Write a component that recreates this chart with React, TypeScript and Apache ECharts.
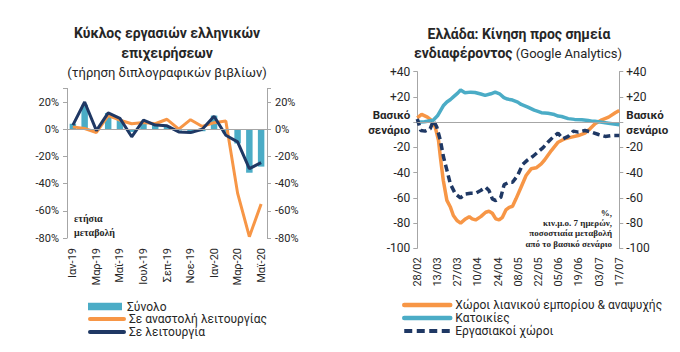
import React, { useEffect, useRef } from 'react';
import * as echarts from 'echarts';

// ---------- Left chart data ----------
const months = ['Ιαν-19', 'Φεβ-19', 'Μαρ-19', 'Απρ-19', 'Μαϊ-19', 'Ιουν-19', 'Ιουλ-19', 'Αυγ-19', 'Σεπ-19', 'Οκτ-19', 'Νοε-19', 'Δεκ-19', 'Ιαν-20', 'Φεβ-20', 'Μαρ-20', 'Απρ-20', 'Μαϊ-20'];
const totalTurnover = [4, 18, -1, 12, 7, -2, 5, 4, 2.5, -1, -3, -1.5, 10, -3, -10.5, -32, -27.5];
const suspendedOps = [1.7, 0.5, -2.4, 10, 6.6, 4, 5, 4, 7.3, 0, 7, 2, 4.8, 6, -47, -79, -55];
const operatingOps = [3, 20, -1, 12, 8, -5.6, 6.6, 3, 2.5, -2, -2.5, 0, 9.5, -4.4, -9.3, -29, -24.6];

// ---------- Right chart data (x = days since 28/02) ----------
const dateTicks = ['28/02', '13/03', '27/03', '10/04', '24/04', '08/05', '22/05', '05/06', '19/06', '03/07', '17/07'];

const retailDays = [0, 3, 7, 10, 12.4, 14.7, 16, 18, 20.5, 23, 25, 27.5, 30, 33.4, 36, 38, 40.4, 44, 47.4, 49.7, 52, 54.4, 56.7, 59, 61.4, 63.7, 66, 68.4, 71.9, 75.4, 78.9, 82.4, 85.9, 88.2, 92.9, 97.6, 102.2, 106.9, 111.6, 116.2, 119.7, 123.2, 127.9, 132.6, 137.2, 140];
const retailValues = [3.4, 6.1, 4, 1.3, -3.9, -14.5, -27.8, -46, -62, -67.5, -74, -78, -80, -76.7, -74.9, -76.7, -77.5, -74.9, -71.4, -70.6, -72.2, -76.7, -77.5, -75.4, -69.6, -67.5, -66.7, -60.8, -51.6, -42.3, -37, -36.2, -33.1, -30, -22.5, -15.9, -13.2, -11.9, -10.6, -8.7, -5.3, -1.3, 1.9, 4, 7.4, 9.3];

const residentialDays = [0, 5, 11, 14, 16, 18, 20.5, 23, 25, 28, 30, 33, 37, 40, 44, 47, 51, 54, 57, 60, 62.5, 66, 69.6, 72, 76.6, 81, 83.6, 86, 90.6, 95, 97.6, 100, 104.6, 109, 114, 118.5, 121, 123, 128, 132.5, 135, 140];
const residentialValues = [0, 0.3, 1.5, 5, 9, 13, 16, 18, 20, 23, 25.5, 23.3, 23.8, 23.5, 22.3, 21.2, 22.5, 23.8, 22.5, 19.5, 18.3, 17.5, 15.9, 14, 11.9, 9.5, 8.5, 7.5, 7, 6, 4.8, 4.5, 2.8, 2.2, 1.9, 1.3, 0.8, 0.8, 0, -0.8, -1.3, -2.1];

const workplaceDays = [0, 2.4, 5.4, 8.9, 11.2, 13.5, 16, 18.2, 20.6, 22.9, 26.4, 29.9, 33.4, 36.9, 40.4, 43.9, 47.4, 49.7, 52, 54.4, 57.9, 60.2, 63.7, 66, 69.5, 73, 76.5, 80, 83.5, 87, 90.5, 94, 97.5, 101, 104.6, 108.1, 111.6, 116.2, 120.9, 125.6, 130.2, 134.9, 140];
const workplaceValues = [2.6, -6.6, -7.1, -5.3, 1.3, -3.9, -14.5, -27.8, -38.4, -48.9, -56.9, -60, -56.9, -56.3, -56.3, -54.2, -51.6, -54.2, -60.8, -62.2, -59.5, -49.5, -47.6, -47.6, -42.3, -33.6, -29.9, -27.2, -23.8, -20.4, -15.9, -11.9, -8.7, -13.2, -11.3, -7.1, -7.9, -6.6, -7.9, -9.8, -11.3, -10.6, -10.6];

const pair = (xs: number[], ys: number[]) => xs.map((x, i) => [x, ys[i]]);

const ORANGE = '#F79646';
const TEAL = '#4BACC6';
const NAVY = '#1F3864';
const AXIS = '#A6A6A6';
const TXT = '#262626';
const FONT = 'Roboto, "Noto Sans", sans-serif';
const SERIF = '"Liberation Serif", "DejaVu Serif", serif';

export default function App() {
  const ref = useRef<HTMLDivElement>(null);
  useEffect(() => {
    if (!ref.current) return;
    const chart = echarts.init(ref.current, null, { renderer: 'svg' });
    const zeroLine = {
      silent: true,
      symbol: ['none', 'none'],
      label: { show: false },
      lineStyle: { color: AXIS, width: 1, type: 'solid' },
      data: [{ yAxis: 0 }],
    };
    const yAxisBase = {
      axisLine: { show: true, lineStyle: { color: AXIS } },
      axisTick: { show: true, length: 4, lineStyle: { color: AXIS } },
      splitLine: { show: false },
    };
    const leftYFmt = (v: number) => (v > 25 ? '' : v + '%');
    const rich = { b: { fontFamily: FONT, fontWeight: 'bold', fontSize: 11.5, lineHeight: 15, color: TXT } };
    const rightYFmt = (v: number) => (v === 0 ? '{b|Βασικό}\n{b|σενάριο}' : v > 0 ? '+' + v : '' + v);
    const legendText = { fontSize: 12, color: TXT, fontFamily: FONT };
    const option: any = {
      animation: false,
      backgroundColor: '#ffffff',
      textStyle: { fontFamily: FONT },
      grid: [
        { left: 67, top: 88.4, width: 200, height: 149.6 },
        { left: 417.3, top: 71.7, width: 202, height: 176.6 },
      ],
      xAxis: [
        {
          type: 'category', gridIndex: 0, data: months, boundaryGap: true,
          axisLine: { show: false }, axisTick: { show: false },
          axisLabel: { rotate: 90, interval: 1, margin: 10, fontSize: 11, color: TXT, fontFamily: FONT },
        },
        {
          type: 'value', gridIndex: 1, min: 0, max: 140, interval: 14,
          axisLine: { show: false }, axisTick: { show: false }, splitLine: { show: false },
          axisLabel: { rotate: 90, margin: 9, fontSize: 11, color: TXT, fontFamily: FONT, formatter: (v: number) => dateTicks[Math.round(v / 14)] },
        },
      ],
      yAxis: [
        { ...yAxisBase, type: 'value', gridIndex: 0, position: 'left', min: -80, max: 30, interval: 20, axisLabel: { formatter: leftYFmt, fontSize: 11, color: TXT, margin: 8 } },
        { ...yAxisBase, type: 'value', gridIndex: 0, position: 'right', min: -80, max: 30, interval: 20, axisLabel: { formatter: leftYFmt, fontSize: 11, color: TXT, margin: 8 } },
        { ...yAxisBase, type: 'value', gridIndex: 1, position: 'left', min: -100, max: 40, interval: 20, axisLabel: { formatter: rightYFmt, rich, fontSize: 12, color: TXT, margin: 7 } },
        { ...yAxisBase, type: 'value', gridIndex: 1, position: 'right', min: -100, max: 40, interval: 20, axisLabel: { formatter: rightYFmt, rich, fontSize: 12, color: TXT, margin: 7 } },
      ],
      legend: [
        {
          orient: 'vertical', left: 83, top: 295.5, itemWidth: 34, itemHeight: 7.5, itemGap: 0,
          textStyle: legendText,
          data: [{ name: 'Σύνολο', icon: 'rect' }],
        },
        {
          orient: 'vertical', left: 83, top: 308, itemWidth: 34, itemHeight: 1, itemGap: 1,
          textStyle: legendText, lineStyle: { width: 4, cap: 'round' },
          data: ['Σε αναστολή λειτουργίας', 'Σε λειτουργία'],
        },
        {
          orient: 'vertical', left: 397, top: 294, itemWidth: 46, itemHeight: 1, itemGap: 1,
          textStyle: legendText,
          data: [
            { name: 'Χώροι λιανικού εμπορίου & αναψυχής', lineStyle: { width: 4.5, cap: 'round' } },
            { name: 'Κατοικίες', lineStyle: { width: 4.5, cap: 'round' } },
            { name: 'Εργασιακοί χώροι', lineStyle: { width: 4, type: [8, 4.5] } },
          ],
        },
      ],
      series: [
        {
          name: 'Σύνολο', type: 'bar', xAxisIndex: 0, yAxisIndex: 0, data: totalTurnover,
          barWidth: '55%', itemStyle: { color: TEAL }, markLine: zeroLine,
        },
        {
          name: 'Σε αναστολή λειτουργίας', type: 'line', xAxisIndex: 0, yAxisIndex: 0, data: suspendedOps,
          symbol: 'none', lineStyle: { color: ORANGE, width: 3 }, itemStyle: { color: ORANGE },
        },
        {
          name: 'Σε λειτουργία', type: 'line', xAxisIndex: 0, yAxisIndex: 0, data: operatingOps,
          symbol: 'none', lineStyle: { color: NAVY, width: 3 }, itemStyle: { color: NAVY },
        },
        {
          name: 'Χώροι λιανικού εμπορίου & αναψυχής', type: 'line', xAxisIndex: 1, yAxisIndex: 2,
          data: pair(retailDays, retailValues), symbol: 'none',
          lineStyle: { color: ORANGE, width: 3.5 }, itemStyle: { color: ORANGE }, markLine: zeroLine,
        },
        {
          name: 'Κατοικίες', type: 'line', xAxisIndex: 1, yAxisIndex: 2,
          data: pair(residentialDays, residentialValues), symbol: 'none',
          lineStyle: { color: TEAL, width: 3.5 }, itemStyle: { color: TEAL },
        },
        {
          name: 'Εργασιακοί χώροι', type: 'line', xAxisIndex: 1, yAxisIndex: 2,
          data: pair(workplaceDays, workplaceValues), symbol: 'none',
          lineStyle: { color: NAVY, width: 3.5, type: [7, 4] }, itemStyle: { color: NAVY },
        },
      ],
      graphic: [
        { type: 'text', x: 167, y: 33, style: { text: 'Κύκλος εργασιών ελληνικών', font: `bold 14px ${FONT}`, fill: TXT, align: 'center', verticalAlign: 'middle', textAlign: 'center', textVerticalAlign: 'middle' } },
        { type: 'text', x: 167, y: 53, style: { text: 'επιχειρήσεων', font: `bold 14px ${FONT}`, fill: TXT, align: 'center', verticalAlign: 'middle', textAlign: 'center', textVerticalAlign: 'middle' } },
        { type: 'text', x: 167, y: 72.5, style: { text: '(τήρηση διπλογραφικών βιβλίων)', font: `13px ${FONT}`, fill: TXT, align: 'center', verticalAlign: 'middle', textAlign: 'center', textVerticalAlign: 'middle' } },
        { type: 'text', x: 519, y: 34, style: { text: 'Ελλάδα: Κίνηση προς σημεία', font: `bold 14px ${FONT}`, fill: TXT, align: 'center', verticalAlign: 'middle', textAlign: 'center', textVerticalAlign: 'middle' } },
        {
          type: 'text', x: 518, y: 53,
          style: {
            text: '{b|ενδιαφέροντος} {r|(Google Analytics)}', align: 'center', verticalAlign: 'middle', textAlign: 'center', textVerticalAlign: 'middle',
            rich: { b: { fontFamily: FONT, fontWeight: 'bold', fontSize: 14, fill: TXT, color: TXT }, r: { fontFamily: FONT, fontSize: 13, fill: TXT, color: TXT } },
          },
        },
        { type: 'text', x: 74, y: 218.5, style: { text: 'ετήσια', font: `bold 10px ${SERIF}`, fill: TXT, align: 'left', verticalAlign: 'middle', textAlign: 'left', textVerticalAlign: 'middle' } },
        { type: 'text', x: 74, y: 232.5, style: { text: 'μεταβολή', font: `bold 10px ${SERIF}`, fill: TXT, align: 'left', verticalAlign: 'middle', textAlign: 'left', textVerticalAlign: 'middle' } },
        {
          type: 'text', x: 612, y: 207.5,
          style: { text: '%,\nκιν.μ.ο. 7 ημερών,\nποσοστιαία μεταβολή\nαπό το βασικό σενάριο', font: `bold 9px ${SERIF}`, lineHeight: 10.3, fill: TXT, align: 'right', verticalAlign: 'top', textAlign: 'right', textVerticalAlign: 'top' },
        },
      ],
    };
    chart.setOption(option);
    return () => chart.dispose();
  }, []);
  return <div ref={ref} style={{ position: 'fixed', left: 0, top: 0, width: 680, height: 352, background: '#fff' }} />;
}
